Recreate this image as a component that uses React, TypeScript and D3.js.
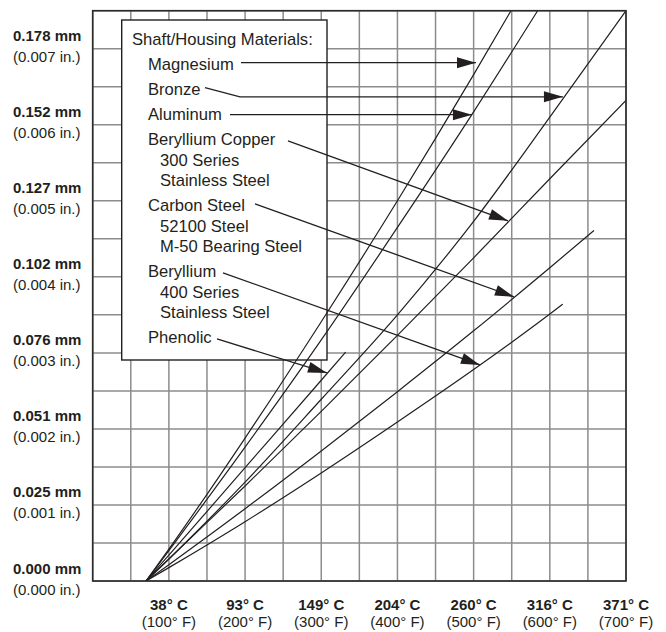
import React from "react";
import * as d3 from "d3";

// ---- data (temperature °F, growth in inches) ----
const magnesium: [number, number][] = [[70, 0], [100, 0.00042], [200, 0.00188], [300, 0.00341], [400, 0.005], [500, 0.00666], [549, 0.0075]];
const aluminum: [number, number][] = [[70, 0], [100, 0.0004], [200, 0.00176], [300, 0.00317], [400, 0.00465], [500, 0.00617], [584, 0.0075]];
const bronze: [number, number][] = [[70, 0], [100, 0.00029], [200, 0.0013], [300, 0.00239], [400, 0.0035], [500, 0.00473], [600, 0.0061], [700, 0.0075]];
const berylliumCopper: [number, number][] = [[70, 0], [100, 0.00029], [200, 0.00125], [300, 0.00223], [400, 0.00323], [500, 0.00425], [600, 0.00529], [700, 0.00632]];
const carbonSteel: [number, number][] = [[70, 0], [100, 0.000215], [200, 0.00095], [300, 0.00171], [400, 0.00249], [500, 0.00329], [600, 0.00412], [658, 0.00461]];
const beryllium: [number, number][] = [[70, 0], [100, 0.000176], [200, 0.00078], [300, 0.00142], [400, 0.00209], [500, 0.00278], [600, 0.00351], [617, 0.00364]];
const phenolic: [number, number][] = [[70, 0], [100, 0.00034], [200, 0.00149], [300, 0.00264], [332, 0.00301]];

const seriesList = [magnesium, aluminum, bronze, berylliumCopper, carbonSteel, beryllium, phenolic];

const yTickValues = [0, 0.001, 0.002, 0.003, 0.004, 0.005, 0.006, 0.007];
const yTickMm = ["0.000 mm", "0.025 mm", "0.051 mm", "0.076 mm", "0.102 mm", "0.127 mm", "0.152 mm", "0.178 mm"];
const yTickIn = ["(0.000 in.)", "(0.001 in.)", "(0.002 in.)", "(0.003 in.)", "(0.004 in.)", "(0.005 in.)", "(0.006 in.)", "(0.007 in.)"];

const xTickValues = [100, 200, 300, 400, 500, 600, 700];
const xTickC = ["38° C", "93° C", "149° C", "204° C", "260° C", "316° C", "371° C"];
const xTickF = ["(100° F)", "(200° F)", "(300° F)", "(400° F)", "(500° F)", "(600° F)", "(700° F)"];

const legendTitle = "Shaft/Housing Materials:";
const legendGroups: string[][] = [
  ["Magnesium"],
  ["Bronze"],
  ["Aluminum"],
  ["Beryllium Copper", "300 Series", "Stainless Steel"],
  ["Carbon Steel", "52100 Steel", "M-50 Bearing Steel"],
  ["Beryllium", "400 Series", "Stainless Steel"],
  ["Phenolic"],
];

// leader arrows, in data units (°F, in.), from label to curve
const arrowPaths: [number, number][][] = [
  [[194.6, 0.006816], [503.1, 0.006816]],
  [[147.4, 0.006487], [193.3, 0.006368], [617.2, 0.006368]],
  [[180.2, 0.006132], [497.8, 0.006132]],
  [[256.3, 0.005789], [545.1, 0.004737]],
  [[213.0, 0.004961], [552.9, 0.003737]],
  [[171.0, 0.004053], [508.3, 0.002842]],
  [[163.1, 0.003184], [307.5, 0.002737]],
];

const W = 666;
const H = 632;
const left = 92.7;
const right = 626;
const top = 10.7;
const bottom = 581;

const FONT = "'Liberation Sans', Arial, sans-serif";
const INK = "#231f20";

export default function App() {
  const x = d3.scaleLinear().domain([0, 700]).range([left, right]);
  const y = d3.scaleLinear().domain([0, 0.0075]).range([bottom, top]);

  const gridX = d3.range(0, 701, 50);
  const gridY = d3.range(0, 16).map((i) => i * 0.0005);

  const line = d3
    .line<[number, number]>()
    .x((d) => x(d[0]))
    .y((d) => y(d[1]))
    .curve(d3.curveMonotoneX);

  const arrowLine = d3
    .line<[number, number]>()
    .x((d) => x(d[0]))
    .y((d) => y(d[1]));

  // legend layout
  const legendRows: { text: string; sub: boolean; yy: number }[] = [];
  let cy = 45;
  legendGroups.forEach((g) => {
    cy += 25;
    g.forEach((t, i) => {
      if (i > 0) cy += 20.5;
      legendRows.push({ text: t, sub: i > 0, yy: cy });
    });
  });

  const heads = arrowPaths.map((p) => {
    const a = p[p.length - 2];
    const b = p[p.length - 1];
    const x1 = x(a[0]), y1 = y(a[1]), x2 = x(b[0]), y2 = y(b[1]);
    const ang = Math.atan2(y2 - y1, x2 - x1);
    const L = 19, hw = 5.5;
    const bx = x2 - L * Math.cos(ang), by = y2 - L * Math.sin(ang);
    const nx = -Math.sin(ang) * hw, ny = Math.cos(ang) * hw;
    return `${x2},${y2} ${bx + nx},${by + ny} ${bx - nx},${by - ny}`;
  });

  return (
    <div style={{ position: "absolute", left: 0, top: 0 }}>
      <svg width={W} height={H} style={{ display: "block", background: "#fff" }}>
        <defs>
          <clipPath id="plot">
            <rect x={left} y={top} width={right - left} height={bottom - top} />
          </clipPath>
        </defs>
        {/* grid */}
        <g stroke="#8c8c8c" strokeWidth={1.5}>
          {gridX.map((v) => (
            <line key={"gx" + v} x1={x(v)} x2={x(v)} y1={top} y2={bottom} />
          ))}
          {gridY.map((v) => (
            <line key={"gy" + v} x1={left} x2={right} y1={y(v)} y2={y(v)} />
          ))}
        </g>
        {/* legend box */}
        <rect x={121.7} y={20} width={205.3} height={340} fill="#fff" stroke={INK} strokeWidth={1.4} />
        <g fontFamily={FONT} fontSize={16.6} fill={INK}>
          <text x={132} y={45}>{legendTitle}</text>
          {legendRows.map((r, i) => (
            <text key={i} x={r.sub ? 160 : 148} y={r.yy}>
              {r.text}
            </text>
          ))}
        </g>
        {/* curves */}
        <g clipPath="url(#plot)" fill="none" stroke={INK} strokeWidth={1.2}>
          {seriesList.map((s, i) => (
            <path key={i} d={line(s) || ""} />
          ))}
        </g>
        {/* arrows */}
        <g fill="none" stroke={INK} strokeWidth={1.3}>
          {arrowPaths.map((p, i) => (
            <path key={i} d={arrowLine(p) || ""} />
          ))}
        </g>
        <g fill={INK}>
          {heads.map((h, i) => (
            <polygon key={i} points={h} />
          ))}
        </g>
        {/* frame */}
        <rect x={left} y={top} width={right - left} height={bottom - top} fill="none" stroke="#2a2a2a" strokeWidth={1.6} />
        {/* y labels */}
        <g fontFamily={FONT} fontSize={15} fill={INK}>
          {yTickValues.map((v, i) => (
            <g key={"yl" + i}>
              <text x={13} y={y(v) - 7.5} fontWeight="bold">{yTickMm[i]}</text>
              <text x={13} y={y(v) + 13.5}>{yTickIn[i]}</text>
            </g>
          ))}
        </g>
        {/* x labels */}
        <g fontFamily={FONT} fontSize={15} fill={INK} textAnchor="middle">
          {xTickValues.map((v, i) => (
            <g key={"xl" + i}>
              <text x={x(v)} y={610} fontWeight="bold">{xTickC[i]}</text>
              <text x={x(v)} y={627}>{xTickF[i]}</text>
            </g>
          ))}
        </g>
      </svg>
    </div>
  );
}
